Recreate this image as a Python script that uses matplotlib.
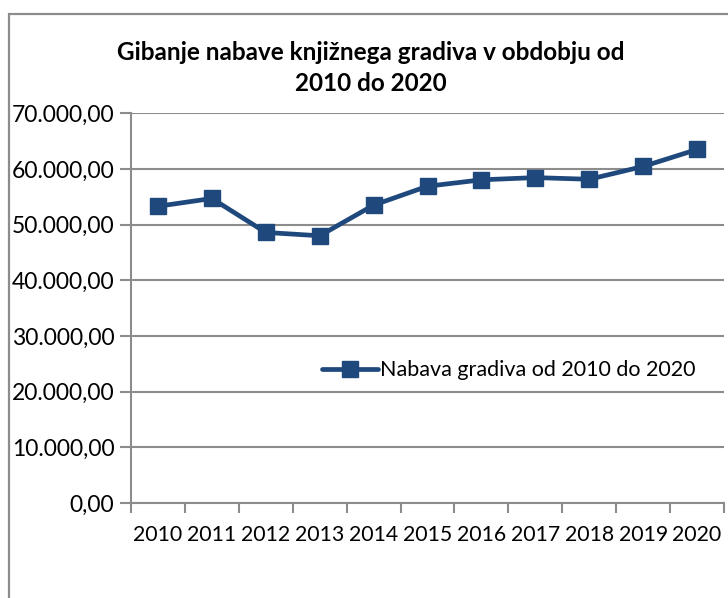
import matplotlib
matplotlib.use("Agg")
import matplotlib.pyplot as plt
from matplotlib.patches import Rectangle
from matplotlib.ticker import FixedLocator, FuncFormatter

years = ["2010", "2011", "2012", "2013", "2014", "2015", "2016", "2017", "2018", "2019", "2020"]
values = [53300, 54700, 48600, 48000, 53500, 56900, 58050, 58450, 58150, 60450, 63500]
series_name = "Nabava gradiva od 2010 do 2020"
title = "Gibanje nabave knjižnega gradiva v obdobju od\n2010 do 2020"

plt.rcParams['font.family'] = ['Lato', 'DejaVu Sans']

W, H = 728, 598
fig = plt.figure(figsize=(W / 100, H / 100), dpi=100)
fig.patch.set_facecolor("white")

# outer chart frame (extends beyond right/bottom edges)
frame = Rectangle((9 / W, -0.1), 1.2, (H - 14) / H + 0.1, transform=fig.transFigure,
                  fill=False, edgecolor="#8c8c8c", linewidth=1.6, zorder=0)
fig.patches.append(frame)

ax = fig.add_axes([131 / W, 95 / H, (724 - 131) / W, (503 - 113.3) / H])
x = list(range(len(years)))
line_color = "#1F497D"
grid_color = "#8c8c8c"

ax.plot(x, values, color=line_color, linewidth=3.4, marker="s", markersize=12,
        markerfacecolor=line_color, markeredgecolor=line_color, label=series_name,
        solid_joinstyle="round", solid_capstyle="round", zorder=3)

ax.set_ylim(0, 70000)
ax.set_xlim(-0.5, len(years) - 0.5)

ax.set_yticks(range(0, 70001, 10000))
ax.yaxis.set_major_formatter(FuncFormatter(
    lambda v, p: f"{v:,.2f}".replace(",", "X").replace(".", ",").replace("X", ".")))
ax.yaxis.grid(True, color=grid_color, linewidth=1.5)
ax.set_axisbelow(True)

ax.xaxis.set_major_locator(FixedLocator([i - 0.5 for i in range(len(years) + 1)]))
ax.xaxis.set_major_formatter(FuncFormatter(lambda v, p: ""))
ax.xaxis.set_minor_locator(FixedLocator(x))
ax.set_xticklabels(years, minor=True)
ax.tick_params(axis="x", which="minor", length=0, pad=16, labelsize=15.3)
ax.tick_params(axis="x", which="major", length=7, width=1.5, color=grid_color, direction="out")
ax.tick_params(axis="y", length=8, width=1.5, color=grid_color, pad=4, labelsize=16.5)

for s in ["top", "right"]:
    ax.spines[s].set_visible(False)
for s in ["left", "bottom"]:
    ax.spines[s].set_color(grid_color)
    ax.spines[s].set_linewidth(1.5)

leg = ax.legend(loc="center", bbox_to_anchor=(0.637, 0.341), frameon=False, fontsize=15.5,
                handlelength=2.6, handletextpad=0.05, borderpad=0)

fig.text(371 / W, (H - 68) / H, title, ha="center", va="center",
         fontsize=17.5, fontweight="bold", linespacing=1.45)

fig.savefig("out.png", dpi=100, facecolor="white")
